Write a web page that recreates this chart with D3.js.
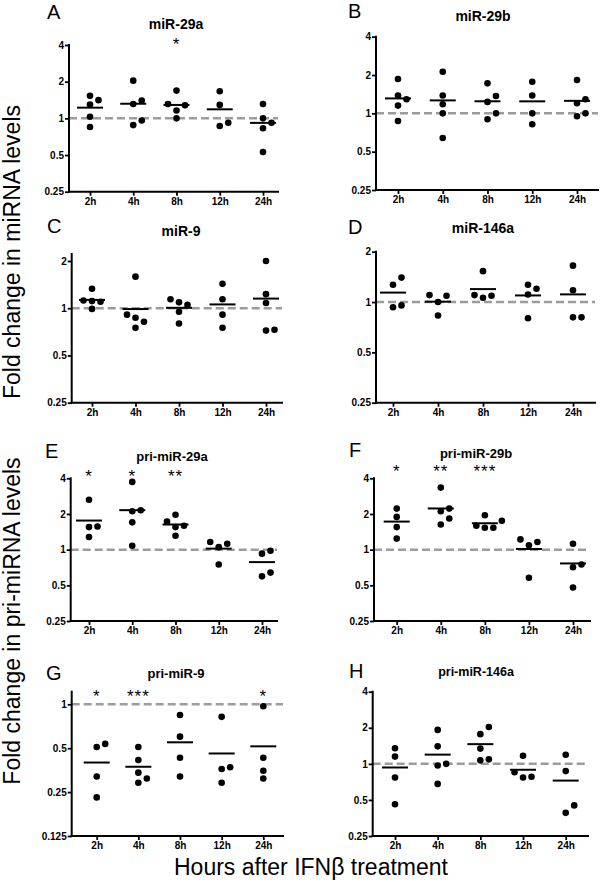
<!DOCTYPE html>
<html><head><meta charset="utf-8">
<script src="https://cdn.jsdelivr.net/npm/d3@7"></script>
<style>
body{margin:0;background:#fff}
svg{display:block}
text{font-family:"Liberation Sans",Arial,Helvetica,sans-serif}
</style>
</head><body>
<svg id="chart" width="600" height="882"></svg>
<script>
// ---------- data ----------
const categories = ["2h", "4h", "8h", "12h", "24h"];

const miR29a = [[1.53, 1.41, 1.30, 1.03, 0.85], [2.04, 1.40, 1.31, 0.96, 0.88], [1.69, 1.31, 1.28, 1.16, 1.00], [1.67, 1.29, 0.92, 0.865], [1.31, 1.00, 0.92, 0.83, 0.53]];
const miR29b = [[1.86, 1.38, 1.29, 1.15, 0.87], [2.12, 1.38, 1.18, 1.00, 0.64], [1.72, 1.37, 1.23, 1.00, 0.90], [1.77, 1.38, 1.00, 0.82], [1.83, 1.29, 1.20, 1.00, 0.95]];
const miR9 = [[1.33, 1.12, 1.11, 1.10, 0.99], [1.59, 0.91, 0.87, 0.82, 0.75], [1.14, 1.09, 1.05, 0.95, 0.80], [1.43, 1.14, 0.91, 0.75], [2.00, 1.23, 1.08, 0.73, 0.72]];
const miR146a = [[1.40, 1.27, 0.955, 0.93], [1.10, 1.09, 1.00, 0.83], [1.53, 1.10, 1.09, 1.06], [1.27, 1.20, 1.11, 0.80], [1.65, 1.175, 0.81, 0.81]];
const priMiR29a = [[2.64, 1.57, 1.55, 1.28], [3.73, 2.15, 2.11, 1.70, 1.08], [1.97, 1.73, 1.59, 1.55, 1.31], [1.16, 1.12, 1.05, 0.75], [0.98, 0.925, 0.64, 0.595]];
const priMiR29b = [[2.22, 1.89, 1.55, 1.24], [3.34, 2.22, 2.11, 1.83, 1.63], [1.95, 1.75, 1.59, 1.53, 1.53], [1.22, 1.16, 1.09, 0.58], [1.12, 0.75, 0.71, 0.48]];
const priMiR9 = [[0.535, 0.51, 0.32, 0.23], [0.51, 0.415, 0.34, 0.31, 0.29], [0.845, 0.60, 0.43, 0.32], [0.82, 0.37, 0.36, 0.29], [0.97, 0.43, 0.35, 0.31]];
const priMiR146a = [[1.35, 1.15, 0.77, 0.46], [1.92, 1.40, 1.00, 0.97, 0.68], [2.03, 1.77, 1.34, 1.09, 1.07], [1.17, 0.85, 0.78, 0.77], [1.19, 0.87, 0.45, 0.39]];

const ticksTo4 = [0.25, 0.5, 1, 2, 4];
const ticksTo2 = [0.25, 0.5, 1, 2];
const ticksTo1 = [0.125, 0.25, 0.5, 1];

const starsA = ["", "", "*", "", ""];
const starsE = ["*", "*", "**", "", ""];
const starsF = ["*", "**", "***", "", ""];
const starsG = ["*", "***", "", "", "*"];
const noStars = ["", "", "", "", ""];

const titles = ["miR-29a", "miR-29b", "miR-9", "miR-146a", "pri-miR-29a", "pri-miR-29b", "pri-miR-9", "pri-miR-146a"];
const letters = ["A", "B", "C", "D", "E", "F", "G", "H"];
const yLabels = ["Fold change in miRNA levels", "Fold change in pri-miRNA levels"];
const xLabel = "Hours after IFNβ treatment";

// ---------- layout ----------
const panels = [
  {data: miR29a, ticks: ticksTo4, stars: starsA, lx: 47, ly: 19, tx: 176, ty: 29, ts: 14, ax: 69, axEnd: 278, c0: 90, c1: 263, yBot: 191.7, yTop: 45, axTop: 45, starY: 49.5},
  {data: miR29b, ticks: ticksTo4, stars: noStars, lx: 348, ly: 18, tx: 483, ty: 20.5, ts: 14, ax: 376, axEnd: 598, c0: 398, c1: 577, yBot: 190, yTop: 36.7, axTop: 36.7, starY: 0},
  {data: miR9, ticks: ticksTo2, stars: noStars, lx: 47, ly: 233, tx: 181, ty: 236, ts: 14, ax: 71.7, axEnd: 282, c0: 92, c1: 266, yBot: 402.7, yTop: 261, axTop: 254, starY: 0},
  {data: miR146a, ticks: ticksTo2, stars: noStars, lx: 348, ly: 234, tx: 483, ty: 233, ts: 14, ax: 376, axEnd: 595, c0: 393, c1: 573, yBot: 402.7, yTop: 251.7, axTop: 251.7, starY: 0},
  {data: priMiR29a, ticks: ticksTo4, stars: starsE, lx: 45, ly: 458, tx: 172, ty: 461, ts: 13, ax: 70.7, axEnd: 277, c0: 89, c1: 262, yBot: 621, yTop: 478.3, axTop: 478.3, starY: 481.5},
  {data: priMiR29b, ticks: ticksTo4, stars: starsF, lx: 349, ly: 457, tx: 476, ty: 457.5, ts: 13, ax: 374, axEnd: 590, c0: 396.7, c1: 573, yBot: 621, yTop: 478.3, axTop: 478.3, starY: 477},
  {data: priMiR9, ticks: ticksTo1, stars: starsG, lx: 46, ly: 680, tx: 176, ty: 678, ts: 13, ax: 71.7, axEnd: 283, c0: 96.7, c1: 263.3, yBot: 836, yTop: 704.3, axTop: 691.7, starY: 702},
  {data: priMiR146a, ticks: ticksTo4, stars: noStars, lx: 349, ly: 678, tx: 476, ty: 676, ts: 12.5, ax: 372.7, axEnd: 588, c0: 395, c1: 565.7, yBot: 836, yTop: 691.7, axTop: 691.7, starY: 0}
];

const FONT = '"Liberation Sans", Arial, Helvetica, sans-serif';
const svg = d3.select("#chart");
svg.append("rect").attr("width", 600).attr("height", 882).attr("fill", "#fff");

function swarm(vals, y, step, thresh) {
  const pts = vals.map(v => ({v, py: y(v)})).sort((a, b) => a.v - b.v);
  const placed = [];
  const cand = [0, step, -step, 2 * step, -2 * step];
  pts.forEach(p => {
    for (const o of cand) {
      if (!placed.some(q => q.off === o && Math.abs(q.py - p.py) < thresh)) { p.off = o; break; }
    }
    if (p.off === undefined) p.off = 0;
    placed.push(p);
  });
  return pts;
}

panels.forEach((p, i) => {
  const g = svg.append("g");
  const ticks = p.ticks;
  const y = d3.scaleLog().base(2).domain([ticks[0], ticks[ticks.length - 1]]).range([p.yBot, p.yTop]);
  const x = d3.scalePoint().domain(categories).range([p.c0, p.c1]);

  // letter and title
  g.append("text").attr("x", p.lx).attr("y", p.ly).attr("font-size", 20).attr("fill", "#000").text(letters[i]);
  g.append("text").attr("x", p.tx).attr("y", p.ty).attr("font-size", p.ts).attr("font-weight", "bold")
    .attr("text-anchor", "middle").attr("fill", "#000").text(titles[i]);

  // dashed reference line at 1
  g.append("line").attr("x1", p.ax).attr("x2", p.axEnd).attr("y1", y(1)).attr("y2", y(1))
    .attr("stroke", "#9c9c9c").attr("stroke-width", 2.5).attr("stroke-dasharray", "8,4");

  // y axis
  const gy = g.append("g").attr("transform", `translate(${p.ax},0)`)
    .call(d3.axisLeft(y).tickValues(ticks).tickFormat(d => String(d)).tickSize(4).tickPadding(1));
  gy.select(".domain").remove();
  gy.attr("font-family", FONT);
  gy.selectAll(".tick line").attr("stroke", "#000").attr("stroke-width", 1.8);
  gy.selectAll(".tick text").attr("font-size", 10).attr("font-weight", "bold").attr("fill", "#000");

  // x axis
  const gx = g.append("g").attr("transform", `translate(0,${p.yBot})`)
    .call(d3.axisBottom(x).tickSize(4).tickSizeOuter(0).tickPadding(2));
  gx.select(".domain").remove();
  gx.attr("font-family", FONT);
  gx.selectAll(".tick line").attr("stroke", "#000").attr("stroke-width", 1.8);
  gx.selectAll(".tick text").attr("font-size", 10).attr("font-weight", "bold").attr("fill", "#000");

  // axis lines
  g.append("line").attr("x1", p.ax).attr("x2", p.ax).attr("y1", p.yBot).attr("y2", p.axTop)
    .attr("stroke", "#000").attr("stroke-width", 2).attr("stroke-linecap", "square");
  g.append("line").attr("x1", p.ax).attr("x2", p.axEnd).attr("y1", p.yBot).attr("y2", p.yBot)
    .attr("stroke", "#000").attr("stroke-width", 2).attr("stroke-linecap", "square");

  // points and means
  p.data.forEach((vals, ci) => {
    const cx = x(categories[ci]);
    const pts = swarm(vals, y, 8.5, 7.5);
    g.selectAll(null).data(pts).enter().append("circle")
      .attr("cx", d => cx + d.off).attr("cy", d => d.py).attr("r", 3.3).attr("fill", "#000");
    const m = d3.mean(vals);
    g.append("line").attr("x1", cx - 13).attr("x2", cx + 13).attr("y1", y(m)).attr("y2", y(m))
      .attr("stroke", "#000").attr("stroke-width", 2);
    const s = p.stars[ci];
    if (s) {
      g.append("text").attr("x", cx).attr("y", p.starY).attr("font-size", 17).attr("letter-spacing", 1)
        .attr("text-anchor", "middle").attr("fill", "#000").text(s);
    }
  });
});

// shared axis labels
svg.append("text").attr("transform", "translate(20,252) rotate(-90)").attr("text-anchor", "middle")
  .attr("font-size", 23).attr("fill", "#000").text(yLabels[0]);
svg.append("text").attr("transform", "translate(20,621) rotate(-90)").attr("text-anchor", "middle")
  .attr("font-size", 23).attr("fill", "#000").text(yLabels[1]);
svg.append("text").attr("x", 311).attr("y", 875).attr("text-anchor", "middle")
  .attr("font-size", 23).attr("fill", "#000").text(xLabel);
</script>
</body></html>
